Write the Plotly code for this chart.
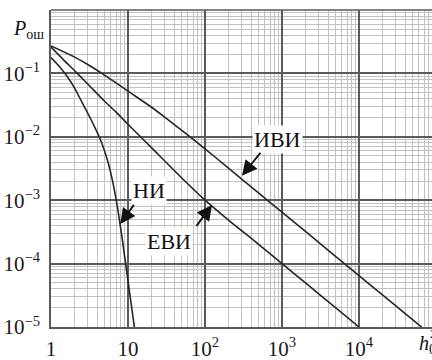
import plotly.graph_objects as go

# ---- data ----
ivi_x = [1, 2, 3, 5, 7, 10, 20, 30, 50, 100, 200, 500, 1000, 2000, 5000, 10000, 20000, 70000]
ivi_y = [0.271, 0.182, 0.138, 0.0933, 0.0708, 0.0525, 0.0295, 0.0204, 0.0126, 0.00646,
         0.00324, 0.00129, 0.000646, 0.000324, 0.000129, 6.46e-5, 3.24e-5, 9.25e-6]

evi_x = [1, 1.5, 2, 3, 5, 7, 10, 20, 50, 100, 200, 500, 1000, 2000, 5000, 10000]
evi_y = [0.26, 0.158, 0.112, 0.068, 0.036, 0.0245, 0.0158, 0.0068, 0.00224, 0.00100,
         0.00049, 0.0002, 0.0001, 5e-5, 2e-5, 1e-5]

ni_x = [1, 1.26, 1.58, 2.0, 2.51, 3.16, 3.98, 4.47, 5.01, 5.62, 6.31, 7.08, 7.94, 8.91, 10, 11.2, 12.6]
ni_y = [0.178, 0.132, 0.0933, 0.0603, 0.0355, 0.0209, 0.01175, 0.00851, 0.00575, 0.00363,
        0.0020, 0.000955, 0.000398, 0.000148, 5.37e-5, 1.95e-5, 7.08e-6]

x_tickvals = [1, 10, 100, 1000, 10000]
x_ticktext = ["1", "10", "10<sup>2</sup>", "10<sup>3</sup>", "10<sup>4</sup>"]
y_tickvals = [1e-1, 1e-2, 1e-3, 1e-4, 1e-5]
y_ticktext = ["10<sup>\u22121</sup>", "10<sup>\u22122</sup>", "10<sup>\u22123</sup>",
              "10<sup>\u22124</sup>", "10<sup>\u22125</sup>"]

FONT = "Liberation Serif"
LINE = "#262626"
MAJOR = "#5a5a5a"
MINOR = "#c2c2c2"

fig = go.Figure()
for xs, ys in [(ivi_x, ivi_y), (evi_x, evi_y), (ni_x, ni_y)]:
    fig.add_trace(go.Scatter(x=xs, y=ys, mode="lines",
                             line=dict(color=LINE, width=1.6, shape="spline", smoothing=0.8),
                             showlegend=False, hoverinfo="skip"))

axis_common = dict(
    type="log", showgrid=True, gridcolor=MAJOR, gridwidth=1.5,
    minor=dict(dtick="D1", showgrid=True, gridcolor=MINOR, gridwidth=1),
    showline=True, linecolor=MAJOR, linewidth=1.5, ticks="", zeroline=False,
    automargin=False,
    tickfont=dict(family=FONT, size=21, color="#1a1a1a"),
)

fig.update_layout(
    width=432, height=360,
    margin=dict(l=51, r=0, t=10, b=33),
    paper_bgcolor="white", plot_bgcolor="white",
    xaxis=dict(range=[0, 4.948], tickmode="array", tickvals=x_tickvals, ticktext=x_ticktext,
               ticklabelstandoff=2, **axis_common),
    yaxis=dict(range=[-5, 0], tickmode="array", tickvals=y_tickvals, ticktext=y_ticktext,
               ticklabelstandoff=5, **axis_common),
    shapes=[dict(type="line", xref="paper", yref="paper", x0=0, x1=1, y0=1, y1=1,
                 line=dict(color=MAJOR, width=1.5))],
)

# curve labels
labels = [("ИВИ", 2.935, -2.05), ("НИ", 1.277, -2.84), ("ЕВИ", 1.536, -3.654)]
for t, lx, ly in labels:
    fig.add_annotation(x=lx, y=ly, xref="x", yref="y", text=t, showarrow=False,
                       font=dict(family=FONT, size=22, color="#111"),
                       bgcolor="white", borderpad=1)

# arrows (tip in log coords, tail offset in px)
arrows = [(2.48, -2.616, 20, -25), (2.091, -3.074, -17, 23), (0.90, -3.374, 15, -21)]
for lx, ly, dx, dy in arrows:
    fig.add_annotation(x=lx, y=ly, xref="x", yref="y", text=" ", showarrow=True,
                       ax=dx, ay=dy, arrowhead=2, arrowsize=1.6, arrowwidth=1.9,
                       arrowcolor="#111", standoff=0, font=dict(size=1))

# axis titles
fig.add_annotation(xref="paper", yref="paper", x=-0.104, y=0.94, xanchor="left", yanchor="middle",
                   text="<i>P</i><sub>ош</sub>", showarrow=False,
                   font=dict(family=FONT, size=20, color="#111"))
fig.add_annotation(xref="paper", yref="paper", x=0.96, y=-0.054, xanchor="left", yanchor="middle",
                   text="<i>h</i><sub>0</sub>", showarrow=False,
                   font=dict(family=FONT, size=20, color="#111"))
fig.add_annotation(xref="paper", yref="paper", x=0.99, y=-0.022, xanchor="left", yanchor="middle",
                   text="2", showarrow=False,
                   font=dict(family=FONT, size=13, color="#111"))

fig.write_html("out.html", config={"displayModeBar": False},
               post_script="document.body.style.margin='0';document.body.style.overflow='hidden';")
